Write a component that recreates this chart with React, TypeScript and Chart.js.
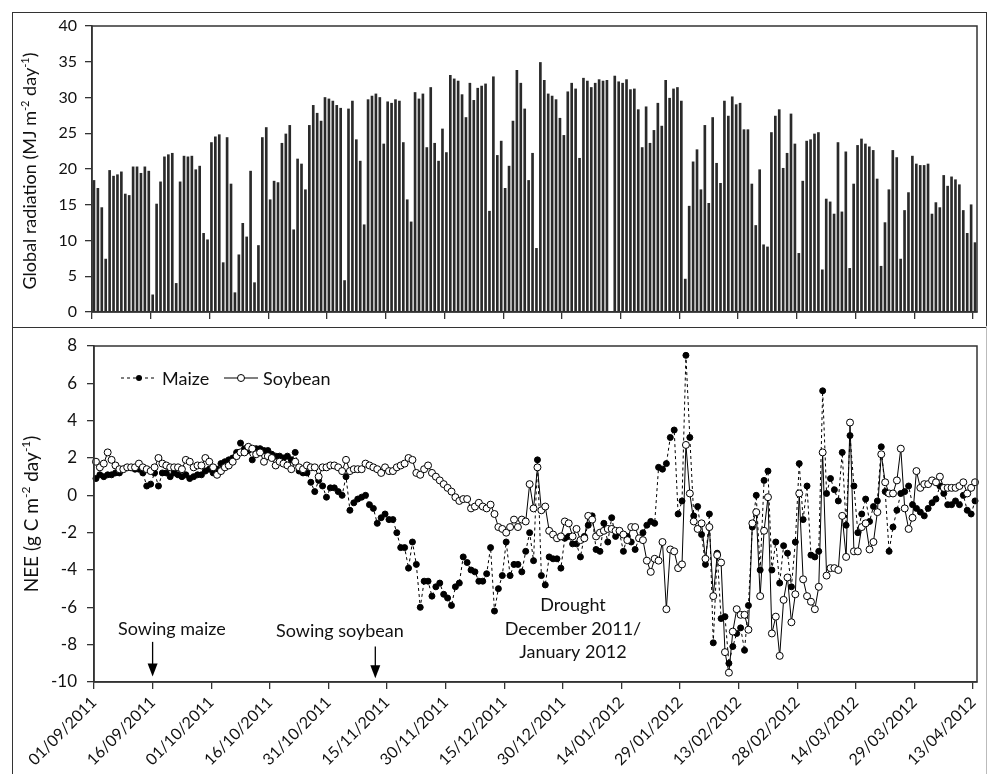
import React, { useEffect, useRef } from "react";
import { Chart, registerables } from "chart.js";

Chart.register(...registerables);

// ---------- data ----------
const TICK_DAYS = [0, 15, 30, 45, 60, 75, 90, 105, 120, 135, 150, 165, 180, 195, 210, 225];
const TICK_LABELS = [
  "01/09/2011", "16/09/2011", "01/10/2011", "16/10/2011", "31/10/2011", "15/11/2011",
  "30/11/2011", "15/12/2011", "30/12/2011", "14/01/2012", "29/01/2012", "13/02/2012",
  "28/02/2012", "14/03/2012", "29/03/2012", "13/04/2012",
];

// Global radiation (MJ m-2 day-1), one value per day from 01/09/2011
const RADIATION: (number | null)[] = [
  18.4, 17.3, 14.6, 7.4, 19.8, 19.0, 19.2, 19.6, 16.5, 16.3,
  20.3, 20.3, 19.4, 20.3, 19.7, 2.4, 15.1, 18.2, 21.7, 22.0,
  22.2, 4.0, 18.2, 21.8, 21.7, 21.8, 19.9, 20.4, 11.0, 10.1,
  23.7, 24.5, 24.8, 6.9, 24.4, 17.9, 2.7, 8.0, 12.4, 10.5,
  19.7, 4.1, 9.3, 24.4, 25.8, 15.7, 18.3, 18.1, 23.6, 24.9,
  26.1, 11.5, 21.4, 20.7, 17.1, 26.1, 28.9, 27.8, 26.7, 30.0,
  29.8, 29.5, 28.9, 28.5, 4.4, 28.4, 29.5, 24.1, 21.1, 12.2,
  29.7, 30.2, 30.5, 30.0, 23.5, 29.4, 29.2, 29.7, 29.5, 23.7,
  15.7, 12.6, 30.7, 29.8, 30.5, 23.0, 31.4, 23.6, 21.1, 25.6,
  22.3, 33.1, 32.6, 32.3, 30.4, 27.2, 32.0, 29.6, 31.3, 31.6,
  31.9, 14.1, 32.9, 21.9, 23.9, 17.3, 20.4, 26.7, 33.8, 32.0,
  28.4, 18.4, 22.2, 8.9, 34.9, 32.4, 30.5, 30.2, 29.7, 27.1,
  24.7, 30.8, 32.0, 31.2, 21.5, 32.7, 32.3, 31.4, 32.0, 32.5,
  32.3, 32.4, null, 33.0, 32.2, 32.0, 32.5, 31.1, 31.2, 28.3,
  23.0, 28.7, 23.6, 25.4, 29.2, 26.0, 32.4, 29.9, 31.2, 31.4,
  29.5, 4.6, 14.8, 21.0, 22.7, 17.1, 26.1, 15.2, 27.2, 20.8,
  18.0, 29.5, 27.4, 30.1, 29.0, 29.2, 25.5, 25.5, 17.9, 12.1,
  19.9, 9.4, 9.1, 25.1, 27.4, 28.3, 20.1, 22.2, 27.7, 23.5,
  8.2, 18.3, 23.9, 24.1, 24.9, 25.1, 5.9, 15.8, 15.4, 13.7,
  23.7, 14.0, 22.4, 6.1, 17.9, 23.3, 24.2, 23.5, 23.1, 22.6,
  18.6, 6.4, 12.5, 17.1, 22.6, 21.6, 7.4, 14.2, 16.7, 21.8,
  20.7, 20.5, 20.5, 20.7, 13.7, 15.3, 14.6, 19.1, 17.6, 18.9,
  18.5, 17.8, 14.2, 11.0, 15.0, 9.7,
];

// NEE (g C m-2 day-1), one value per day from 01/09/2011
const MAIZE_NEE = [
  0.9, 1.1, 1.0, 1.1, 1.1, 1.2, 1.2, 1.4, 1.5, 1.5,
  1.4, 1.4, 1.2, 0.5, 0.6, 1.2, 0.5, 1.2, 1.2, 1.0,
  1.2, 1.1, 1.0, 1.1, 0.9, 1.0, 1.1, 1.1, 1.3, 1.4,
  1.2, 1.4, 1.7, 1.8, 1.9, 2.0, 2.3, 2.8, 2.5, 2.4,
  1.9, 2.5, 2.5, 2.4, 2.4, 2.2, 2.1, 2.1, 2.0, 2.1,
  1.9, 2.3, 1.3, 1.2, 1.2, 0.7, 0.2, 0.8, 0.5, -0.1,
  0.4, 0.4, 0.2, 0.0, 1.0, -0.8, -0.4, -0.2, -0.1, 0.0,
  -0.5, -0.7, -1.5, -1.2, -1.0, -1.3, -1.3, -2.0, -2.8, -2.8,
  -3.9, -2.5, -3.7, -6.0, -4.6, -4.6, -5.4, -4.9, -4.7, -5.3,
  -5.5, -5.9, -4.9, -4.7, -3.3, -3.6, -4.0, -4.1, -4.6, -4.6,
  -4.2, -2.8, -6.2, -5.0, -4.3, -2.5, -4.3, -3.7, -3.7, -4.1,
  -3.0, -2.0, -3.5, 1.9, -4.3, -4.8, -3.3, -3.4, -3.4, -3.9,
  -2.3, -2.2, -2.6, -2.6, -3.3, -2.2, -1.6, -1.1, -2.9, -3.0,
  -1.5, -2.5, -1.2, -2.2, -2.0, -3.0, -2.2, -2.5, -2.9, -2.3,
  -2.0, -1.6, -1.4, -1.5, 1.5, 1.4, 1.7, 3.1, 3.5, -1.0,
  -0.3, 7.5, 3.1, -1.1, -0.6, -2.1, -3.7, -1.0, -7.9, -3.1,
  -6.6, -6.5, -9.0, -8.1, -7.4, -7.1, -8.3, -5.9, -1.7, 0.0,
  -4.0, 0.8, 1.3, -4.0, -2.5, -4.7, -2.7, -3.1, -4.9, -2.5,
  1.7, -1.3, 0.5, -3.2, -3.3, -3.0, 5.6, 0.1, 0.9, 0.3,
  -0.3, 2.3, -1.6, 3.2, 0.5, -2.0, -1.0, -0.2, -1.4, -0.6,
  -0.3, 2.6, 0.2, -3.0, -1.7, -0.8, 0.1, 0.2, 0.5, -0.5,
  -0.7, -0.9, -1.1, -0.7, -0.4, -0.2, 0.5, 0.1, -0.5, -0.5,
  -0.3, -0.5, 0.0, -0.8, -1.0, -0.3,
];

const SOYBEAN_NEE = [
  1.8, 1.5, 1.7, 2.3, 1.9, 1.6, 1.4, 1.4, 1.5, 1.5,
  1.5, 1.7, 1.5, 1.4, 1.3, 1.5, 2.0, 1.7, 1.6, 1.5,
  1.5, 1.5, 1.4, 1.9, 1.8, 1.5, 1.6, 1.6, 2.0, 1.8,
  1.5, 1.1, 1.3, 1.5, 1.6, 1.8, 2.1, 2.3, 2.3, 2.6,
  2.5, 2.2, 2.3, 1.8, 2.1, 2.0, 1.6, 1.8, 1.7, 1.6,
  1.4, 1.8, 1.5, 1.4, 1.6, 1.5, 1.5, 1.0, 1.5, 1.5,
  1.6, 1.6, 1.5, 1.3, 1.9, 1.3, 1.4, 1.4, 1.4, 1.7,
  1.6, 1.5, 1.4, 1.2, 1.5, 1.3, 1.3, 1.5, 1.6, 1.7,
  2.0, 1.9, 1.2, 1.1, 1.4, 1.6, 1.2, 1.0, 0.8, 0.6,
  0.4, 0.2, -0.1, -0.3, -0.2, -0.2, -0.7, -0.6, -0.4, -0.6,
  -0.7, -0.5, -1.0, -1.7, -1.8, -2.0, -1.7, -1.3, -1.7, -1.3,
  -1.4, 0.6, -0.7, 1.5, -0.8, -0.6, -1.9, -2.1, -2.3, -2.2,
  -1.4, -1.5, -2.2, -1.8, -2.4, -2.3, -1.1, -1.3, -2.2, -2.0,
  -1.9, -1.8, -1.8, -1.9, -1.9, -2.1, -2.4, -1.7, -1.7, -2.3,
  -2.4, -3.5, -4.1, -3.4, -3.5, -2.5, -6.1, -2.9, -3.0, -3.9,
  -3.7, 2.7, 0.1, -1.4, -1.8, -1.5, -3.4, -1.7, -5.4, -3.2,
  -3.6, -8.4, -9.5, -7.3, -6.1, -6.4, -6.4, -7.2, -1.5, -0.9,
  -5.4, -1.9, -0.1, -7.4, -6.5, -8.6, -5.6, -4.4, -6.8, -5.3,
  0.1, -4.5, -5.4, -5.7, -6.1, -4.9, 2.3, -4.3, -3.9, -3.9,
  -4.0, -1.1, -3.3, 3.9, -3.0, -3.0, -1.7, -1.5, -2.9, -2.5,
  -0.9, 2.2, 0.7, 0.1, 0.1, 0.8, 2.5, -0.7, -1.8, -1.2,
  1.3, 0.4, 0.6, 0.6, 0.8, 0.7, 1.0, 0.4, 0.4, 0.4,
  0.4, 0.5, 0.7, 0.1, 0.4, 0.7,
];

// annotation: sowing dates (day index from 01/09/2011)
const SOWING_MAIZE_DAY = 15;
const SOWING_SOYBEAN_DAY = 72;

const FONT = "Lato, 'DejaVu Sans', sans-serif";
const INK = "#111";
const AXIS = "#333";

type Part = { text: string; sup?: boolean };
const TOP_TITLE: Part[] = [
  { text: "Global radiation (MJ m" },
  { text: "-2", sup: true },
  { text: " day" },
  { text: "-1", sup: true },
  { text: ")" },
];
const BOTTOM_TITLE: Part[] = [
  { text: "NEE (g C m" },
  { text: "-2", sup: true },
  { text: " day" },
  { text: "-1", sup: true },
  { text: ")" },
];

function drawVerticalRich(ctx: CanvasRenderingContext2D, parts: Part[], cx: number, cy: number, size: number) {
  ctx.save();
  const supSize = Math.round(size * 0.62);
  const widths: number[] = [];
  let total = 0;
  parts.forEach((p) => {
    ctx.font = `${p.sup ? supSize : size}px ${FONT}`;
    const w = ctx.measureText(p.text).width;
    widths.push(w);
    total += w;
  });
  ctx.translate(cx, cy);
  ctx.rotate(-Math.PI / 2);
  ctx.fillStyle = INK;
  ctx.textAlign = "left";
  ctx.textBaseline = "alphabetic";
  const base = size * 0.35;
  let x = -total / 2;
  parts.forEach((p, i) => {
    ctx.font = `${p.sup ? supSize : size}px ${FONT}`;
    ctx.fillText(p.text, x, p.sup ? base - size * 0.4 : base);
    x += widths[i];
  });
  ctx.restore();
}

function strokePlotBox(chart: any) {
  const { ctx, chartArea: a } = chart;
  ctx.save();
  ctx.strokeStyle = AXIS;
  ctx.lineWidth = 1.5;
  ctx.strokeRect(a.left, a.top, a.right - a.left, a.bottom - a.top);
  ctx.restore();
}

const xAxisCommon = (height: number, showLabels: boolean) => ({
  type: "linear" as const,
  min: 0,
  max: 226,
  offset: false,
  afterBuildTicks: (s: any) => {
    s.ticks = TICK_DAYS.map((v) => ({ value: v }));
  },
  afterFit: (s: any) => {
    s.height = height;
    s.paddingLeft = 0;
    s.paddingRight = 0;
  },
  ticks: {
    display: showLabels,
    autoSkip: false,
    minRotation: 45,
    maxRotation: 45,
    padding: 4,
    color: INK,
    font: { family: FONT, size: 16 },
    callback: (_v: any, i: number) => TICK_LABELS[i],
  },
  grid: { offset: false, drawOnChartArea: false, drawTicks: true, tickLength: 7, color: AXIS, lineWidth: 1.3 },
  border: { display: true, color: AXIS, width: 1.5 },
});

export default function App() {
  const topRef = useRef<HTMLCanvasElement>(null);
  const botRef = useRef<HTMLCanvasElement>(null);

  useEffect(() => {
    const topPlugin = {
      id: "topDecor",
      afterDraw(chart: any) {
        strokePlotBox(chart);
        drawVerticalRich(chart.ctx, TOP_TITLE, 17, 158, 18);
      },
    };

    const top = new Chart(topRef.current as HTMLCanvasElement, {
      type: "bar",
      data: {
        datasets: [
          {
            label: "Global radiation",
            data: RADIATION.map((v, i) => ({ x: i + 0.5, y: v })) as any,
            backgroundColor: "#2a2a2a",
            borderWidth: 0,
            barThickness: 2,
          },
        ],
      },
      options: {
        animation: false,
        responsive: true,
        maintainAspectRatio: false,
        events: [],
        layout: { padding: { top: 13, right: 8, left: 0, bottom: 0 } },
        plugins: { legend: { display: false }, tooltip: { enabled: false } },
        scales: {
          x: xAxisCommon(14, false) as any,
          y: {
            min: 0,
            max: 40,
            afterFit: (s: any) => {
              s.width = 79;
              s.paddingTop = 0;
              s.paddingBottom = 0;
            },
            ticks: { stepSize: 5, padding: 8, color: INK, font: { family: FONT, size: 16 } },
            grid: { drawOnChartArea: false, tickLength: 7, color: AXIS, lineWidth: 1.3 },
            border: { display: true, color: AXIS, width: 1.5 },
          },
        },
      },
      plugins: [topPlugin],
    });

    const botPlugin = {
      id: "botDecor",
      afterDraw(chart: any) {
        const { ctx } = chart;
        const xs = chart.scales.x;
        const ys = chart.scales.y;
        strokePlotBox(chart);
        drawVerticalRich(ctx, BOTTOM_TITLE, 18, 186, 19);

        ctx.save();
        // legend
        const ly = 50;
        ctx.strokeStyle = "#000";
        ctx.lineWidth = 1;
        ctx.setLineDash([3, 3]);
        ctx.beginPath();
        ctx.moveTo(108, ly);
        ctx.lineTo(144, ly);
        ctx.stroke();
        ctx.setLineDash([]);
        ctx.fillStyle = "#000";
        ctx.beginPath();
        ctx.arc(126, ly, 3, 0, Math.PI * 2);
        ctx.fill();
        ctx.beginPath();
        ctx.moveTo(211, ly);
        ctx.lineTo(245, ly);
        ctx.stroke();
        ctx.fillStyle = "#fff";
        ctx.beginPath();
        ctx.arc(228, ly, 3.5, 0, Math.PI * 2);
        ctx.fill();
        ctx.stroke();
        ctx.fillStyle = INK;
        ctx.font = `18px ${FONT}`;
        ctx.textAlign = "left";
        ctx.textBaseline = "middle";
        ctx.fillText("Maize", 149, ly + 1);
        ctx.fillText("Soybean", 250, ly + 1);

        // sowing arrows
        const arrows = [
          { day: SOWING_MAIZE_DAY, from: -7.85, to: -9.7 },
          { day: SOWING_SOYBEAN_DAY, from: -8.1, to: -9.8 },
        ];
        ctx.fillStyle = "#000";
        ctx.strokeStyle = "#000";
        ctx.lineWidth = 1.3;
        arrows.forEach((a) => {
          const x = xs.getPixelForValue(a.day);
          const y1 = ys.getPixelForValue(a.from);
          const y2 = ys.getPixelForValue(a.to);
          ctx.beginPath();
          ctx.moveTo(x, y1);
          ctx.lineTo(x, y2 - 12);
          ctx.stroke();
          ctx.beginPath();
          ctx.moveTo(x - 5, y2 - 13);
          ctx.lineTo(x + 5, y2 - 13);
          ctx.lineTo(x, y2);
          ctx.closePath();
          ctx.fill();
        });

        // annotation texts
        ctx.fillStyle = INK;
        ctx.font = `18px ${FONT}`;
        ctx.textBaseline = "alphabetic";
        ctx.textAlign = "left";
        ctx.fillText("Sowing maize", 105, 307);
        ctx.fillText("Sowing soybean", 263, 309);
        ctx.textAlign = "center";
        ctx.fillText("Drought", 560, 283);
        ctx.fillText("December 2011/", 560, 307);
        ctx.fillText("January 2012", 560, 330);
        ctx.restore();
      },
    };

    const bot = new Chart(botRef.current as HTMLCanvasElement, {
      type: "line",
      data: {
        datasets: [
          {
            label: "Maize",
            data: MAIZE_NEE.map((v, i) => ({ x: i + 0.5, y: v })),
            borderColor: "#000",
            borderWidth: 1,
            borderDash: [3, 3],
            pointRadius: 3,
            pointBackgroundColor: "#000",
            pointBorderColor: "#000",
            pointBorderWidth: 1,
            tension: 0,
            clip: false as any,
            order: 1,
          },
          {
            label: "Soybean",
            data: SOYBEAN_NEE.map((v, i) => ({ x: i + 0.5, y: v })),
            borderColor: "#000",
            borderWidth: 1,
            pointRadius: 3.5,
            pointBackgroundColor: "#fff",
            pointBorderColor: "#000",
            pointBorderWidth: 1,
            tension: 0,
            clip: false as any,
            order: 0,
          },
        ],
      },
      options: {
        animation: false,
        responsive: true,
        maintainAspectRatio: false,
        events: [],
        layout: { padding: { top: 18, right: 8, left: 0, bottom: 0 } },
        plugins: { legend: { display: false }, tooltip: { enabled: false } },
        scales: {
          x: xAxisCommon(92, true) as any,
          y: {
            min: -10,
            max: 8,
            afterFit: (s: any) => {
              s.width = 81;
              s.paddingTop = 0;
              s.paddingBottom = 0;
            },
            ticks: { stepSize: 2, padding: 10, color: INK, font: { family: FONT, size: 17 } },
            grid: { drawOnChartArea: false, tickLength: 7, color: AXIS, lineWidth: 1.3 },
            border: { display: true, color: AXIS, width: 1.5 },
          },
        },
      },
      plugins: [botPlugin],
    });

    return () => {
      top.destroy();
      bot.destroy();
    };
  }, []);

  return (
    <div style={{ position: "fixed", left: 0, top: 0, width: 987, height: 774, background: "#fff", overflow: "hidden" }}>
      <div
        style={{
          position: "absolute", left: 12, top: 12, width: 975, height: 316,
          border: "1.5px solid #333", boxSizing: "border-box",
        }}
      />
      <div
        style={{
          position: "absolute", left: 12, top: 326, width: 975, height: 460,
          borderLeft: "1.5px solid #333", borderRight: "1.5px solid #bbb", boxSizing: "border-box",
        }}
      />
      <div style={{ position: "absolute", left: 13, top: 13, width: 972, height: 313 }}>
        <canvas ref={topRef} />
      </div>
      <div style={{ position: "absolute", left: 13, top: 328, width: 972, height: 446 }}>
        <canvas ref={botRef} />
      </div>
    </div>
  );
}
